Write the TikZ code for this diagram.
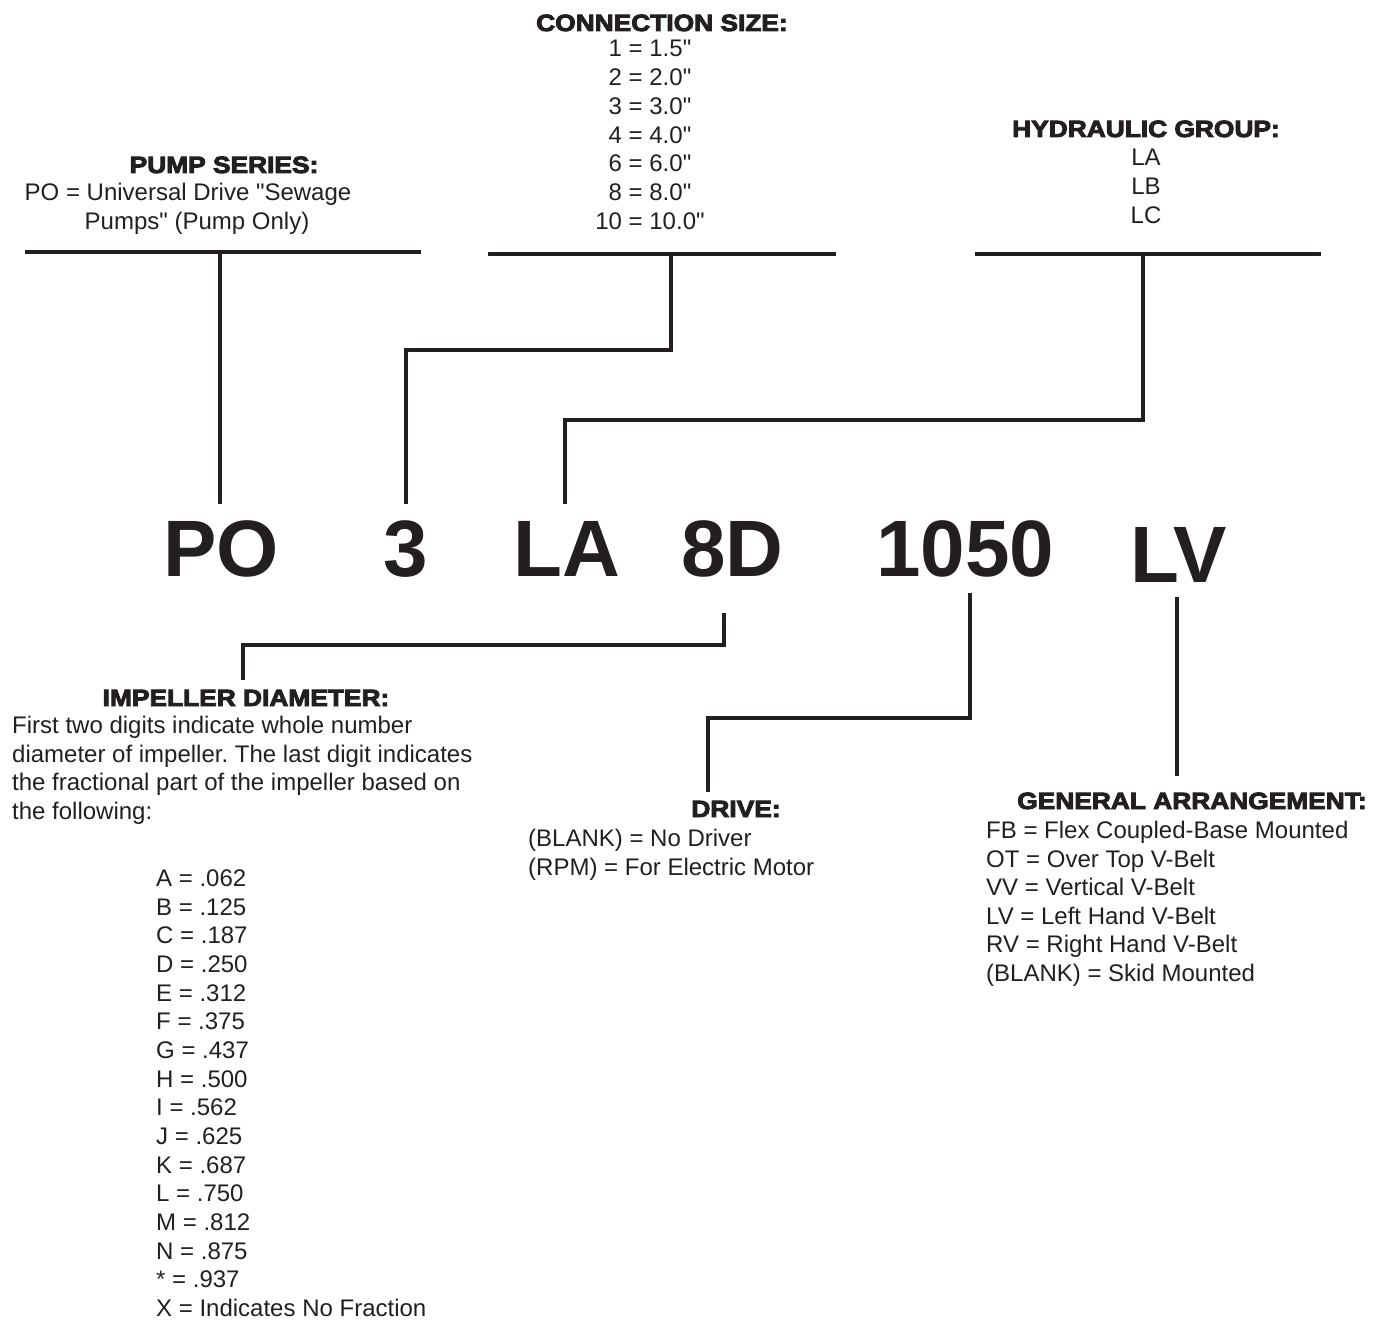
\documentclass[tikz,border=0pt]{standalone}
\usepackage{fontspec}
\setmainfont{Liberation Sans}[Ligatures=TeXOff]
\newfontfamily\headfont[FakeBold=4,FakeStretch=1.12]{Liberation Sans Bold}
\newfontfamily\codefont{Liberation Sans Bold}
\definecolor{ink}{RGB}{35,31,32}
\frenchspacing
\begin{document}
\begin{tikzpicture}[x=1pt,y=-1pt,
  bar/.style={draw=ink,line width=4.5pt,line cap=butt,line join=miter},
  head/.style={font=\headfont\fontsize{23.5}{28}\selectfont, text=ink, inner sep=0pt, anchor=base},
  txt/.style={font=\frenchspacing\fontsize{24}{28}\selectfont, text=ink, inner sep=0pt, anchor=base west},
  txtc/.style={txt, anchor=base},
  code/.style={font=\codefont\fontsize{80}{90}\selectfont, text=ink, inner sep=0pt, anchor=base west}]
\useasboundingbox (0,0) rectangle (1379,1321);

% ---------- big code ----------
\node[code] (po)   at (163,576) {PO};
\node[code] (three) at (383,576) {3};
\node[code] (la)   at (513,576) {LA};
\node[code] (ed)   at (681,576) {8D};
\node[code] (rpm)  at (876,576) {1050};
\node[code] (lv)   at (1130,582) {LV};

% ---------- PUMP SERIES ----------
\node[head] (hps) at (224,173) {PUMP SERIES:};
\node[txtc] (ps1) at (188,201) {PO = Universal Drive "Sewage};
\node[txtc] (ps2) at (197,230) {Pumps" (Pump Only)};

% ---------- CONNECTION SIZE ----------
\node[head] (hcs) at (662,31) {CONNECTION SIZE:};
\foreach \t [count=\i] in {1 = 1.5", 2 = 2.0", 3 = 3.0", 4 = 4.0", 6 = 6.0", 8 = 8.0", 10 = 10.0"}
  \node[txtc] (cs\i) at (650,{57+(\i-1)*28.7}) {\t};

% ---------- HYDRAULIC GROUP ----------
\node[head] (hhg) at (1146,137) {HYDRAULIC GROUP:};
\node[txtc] (hg1) at (1146,166) {LA};
\node[txtc] (hg2) at (1146,194.7) {LB};
\node[txtc] (hg3) at (1146,223.4) {LC};

% ---------- IMPELLER DIAMETER ----------
\node[head] (hid) at (246,706) {IMPELLER DIAMETER:};
\node[txt] (id1) at (12,733) {First two digits indicate whole number};
\node[txt] (id2) at (12,762) {diameter of impeller. The last digit indicates};
\node[txt] (id3) at (12,790.5) {the fractional part of the impeller based on};
\node[txt] (id4) at (12,819) {the following:};
\foreach \t [count=\i] in {A = .062, B = .125, C = .187, D = .250, E = .312, F = .375, G = .437, H = .500, I = .562, J = .625, K = .687, L = .750, M = .812, N = .875, * = .937, X = Indicates No Fraction}
  \node[txt] (imp\i) at (156,{886.5+(\i-1)*28.67}) {\t};

% ---------- DRIVE ----------
\node[head] (hdr) at (736,817) {DRIVE:};
\node[txt] (dr1) at (528,846.5) {(BLANK) = No Driver};
\node[txt] (dr2) at (528,875) {(RPM) = For Electric Motor};

% ---------- GENERAL ARRANGEMENT ----------
\node[head] (hga) at (1192,809) {GENERAL ARRANGEMENT:};
\foreach \t [count=\i] in {FB = Flex Coupled-Base Mounted, OT = Over Top V-Belt, VV = Vertical V-Belt, LV = Left Hand V-Belt, RV = Right Hand V-Belt, (BLANK) = Skid Mounted}
  \node[txt] (ga\i) at (986,{838.5+(\i-1)*28.5}) {\t};

% ---------- bars ----------
\coordinate (psL) at (25,252);  \coordinate (psR) at (421,252);  \coordinate (psM) at (220,252);
\coordinate (csL) at (488,254); \coordinate (csR) at (836,254);  \coordinate (csM) at (671,254);
\coordinate (hgL) at (975,254); \coordinate (hgR) at (1321,254); \coordinate (hgM) at (1143,254);
\draw[bar] (psL) -- (psR);
\draw[bar] (csL) -- (csR);
\draw[bar] (hgL) -- (hgR);

% ---------- connectors ----------
\coordinate (poT) at (220,504);
\coordinate (thT) at (406,504);
\coordinate (laT) at (565,504);
\coordinate (edB) at (724,613);
\coordinate (idT) at (243,680);
\coordinate (rpB) at (970,593);
\coordinate (drT) at (708,792);
\coordinate (lvB) at (1177,597);
\coordinate (gaT) at (1177,776);

\draw[bar] (psM) -- (poT);
\draw[bar] (csM) -- (671,350) -- (406,350) -- (thT);
\draw[bar] (hgM) -- (1143,420) -- (565,420) -- (laT);
\draw[bar] (edB) -- (724,645) -- (243,645) -- (idT);
\draw[bar] (rpB) -- (970,718) -- (708,718) -- (drT);
\draw[bar] (lvB) -- (gaT);
\end{tikzpicture}
\end{document}
